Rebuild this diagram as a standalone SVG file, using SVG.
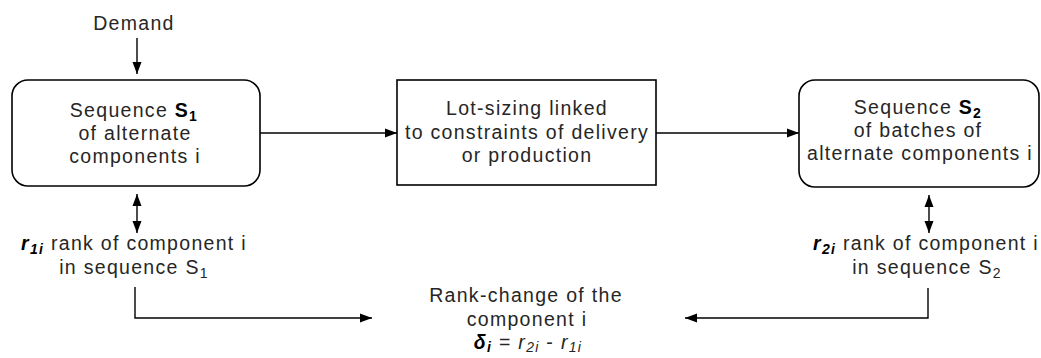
<svg xmlns="http://www.w3.org/2000/svg" width="1041" height="358" viewBox="0 0 1041 358">
  <style>
    .box { fill: #ffffff; stroke: #000000; stroke-width: 1.6; }
    .conn { fill: none; stroke: #000000; stroke-width: 1.4; }
    text { font-family: "Liberation Sans", Arial, sans-serif; font-size: 19.5px; fill: #262626; letter-spacing: 1.3px; }
    .c { text-anchor: middle; }
    .b { font-weight: bold; fill: #000000; }
    .bi { font-weight: bold; font-style: italic; fill: #000000; }
    .it { font-style: italic; }
    .sub { font-size: 14px; }
  </style>
  <defs>
    <marker id="arrow" viewBox="0 0 12 10" refX="12" refY="5" markerWidth="12" markerHeight="10" markerUnits="userSpaceOnUse" orient="auto-start-reverse">
      <path d="M0,0.5 L12,5 L0,9.5 Z" fill="#000000"/>
    </marker>
  </defs>

  <rect width="1041" height="358" fill="#ffffff"/>

  <!-- connectors -->
  <g id="connectors">
    <line class="conn" x1="137" y1="38" x2="137" y2="74" marker-end="url(#arrow)"/>
    <line class="conn" x1="260" y1="133" x2="397" y2="133" marker-end="url(#arrow)"/>
    <line class="conn" x1="656" y1="133" x2="799" y2="133" marker-end="url(#arrow)"/>
    <line class="conn" x1="137" y1="194" x2="137" y2="233" marker-start="url(#arrow)" marker-end="url(#arrow)"/>
    <line class="conn" x1="929" y1="195" x2="929" y2="233" marker-start="url(#arrow)" marker-end="url(#arrow)"/>
    <polyline class="conn" points="135,287 135,318 372,318" marker-end="url(#arrow)"/>
    <polyline class="conn" points="928,288 928,318 685,318" marker-end="url(#arrow)"/>
  </g>

  <!-- demand input -->
  <g id="demand">
    <text class="c" x="134" y="30">Demand</text>
  </g>

  <!-- sequence S1 -->
  <g id="seq-s1">
    <rect class="box" x="12" y="80" width="248" height="106" rx="16" ry="16"/>
    <text class="c" x="134" y="117">Sequence <tspan class="b">S<tspan class="sub" dy="4">1</tspan></tspan></text>
    <text class="c" x="135" y="140">of alternate</text>
    <text class="c" x="135" y="163">components i</text>
  </g>

  <!-- lot-sizing -->
  <g id="lot-sizing">
    <rect class="box" x="397" y="80" width="259" height="105"/>
    <text class="c" x="527" y="115">Lot-sizing linked</text>
    <text class="c" x="527" y="139">to constraints of delivery</text>
    <text class="c" x="527" y="162">or production</text>
  </g>

  <!-- sequence S2 -->
  <g id="seq-s2">
    <rect class="box" x="799" y="80" width="240" height="107" rx="16" ry="16"/>
    <text class="c" x="918" y="114">Sequence <tspan class="b">S<tspan class="sub" dy="4">2</tspan></tspan></text>
    <text class="c" x="918" y="137">of batches of</text>
    <text class="c" x="920" y="160">alternate components i</text>
  </g>

  <!-- rank in S1 -->
  <g id="rank-r1">
    <text class="c" x="134" y="250"><tspan class="bi">r<tspan class="sub" dy="4">1i</tspan></tspan><tspan dy="-4"> rank of component i</tspan></text>
    <text class="c" x="134" y="274">in sequence S<tspan class="sub" dy="4">1</tspan></text>
  </g>

  <!-- rank in S2 -->
  <g id="rank-r2">
    <text class="c" x="926" y="250"><tspan class="bi">r<tspan class="sub" dy="4">2i</tspan></tspan><tspan dy="-4"> rank of component i</tspan></text>
    <text class="c" x="927" y="274">in sequence S<tspan class="sub" dy="4">2</tspan></text>
  </g>

  <!-- rank change -->
  <g id="rank-change">
    <text class="c" x="526" y="302">Rank-change of the</text>
    <text class="c" x="527" y="326">component i</text>
    <text class="c" x="528" y="349"><tspan class="bi">δ<tspan class="sub" dy="3">i</tspan></tspan><tspan dy="-3"> = </tspan><tspan class="it">r<tspan class="sub" dy="3">2i</tspan></tspan><tspan dy="-3"> - </tspan><tspan class="it">r<tspan class="sub" dy="3">1i</tspan></tspan></text>
  </g>
</svg>
